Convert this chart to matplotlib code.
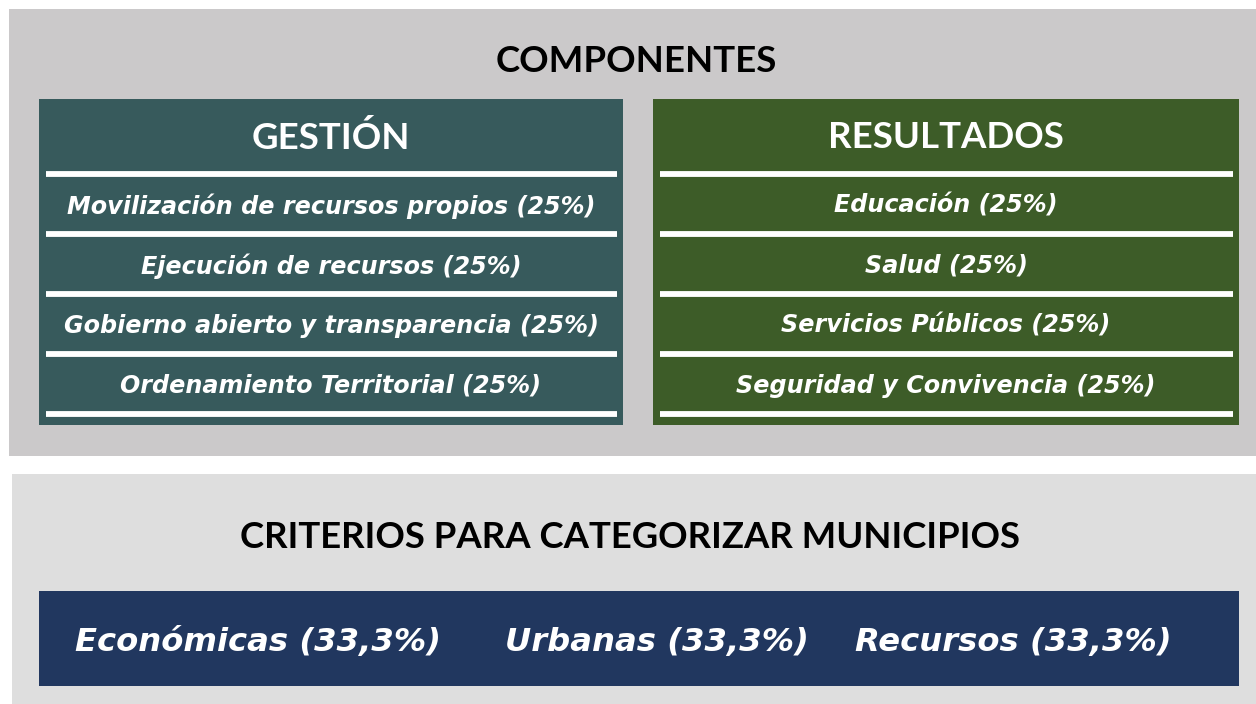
import matplotlib
matplotlib.use("Agg")
import matplotlib.pyplot as plt
from matplotlib.patches import Rectangle

# data
componentes = ["GESTIÓN", "RESULTADOS"]
gestion_items = ["Movilización de recursos propios", "Ejecución de recursos",
                 "Gobierno abierto y transparencia", "Ordenamiento Territorial"]
gestion_pesos = [25, 25, 25, 25]
resultados_items = ["Educación", "Salud", "Servicios Públicos", "Seguridad y Convivencia"]
resultados_pesos = [25, 25, 25, 25]
criterios = ["Económicas", "Urbanas", "Recursos"]
criterios_pesos = ["33,3", "33,3", "33,3"]

W, H = 1256, 704
fig = plt.figure(figsize=(W / 100, H / 100), dpi=100)
ax = fig.add_axes([0, 0, 1, 1])
ax.set_xlim(0, W)
ax.set_ylim(H, 0)
ax.axis("off")

head_font = "Lato"
item_font = "DejaVu Sans"

# top panel
ax.add_patch(Rectangle((9, 9), W - 9, 447, color="#cbc9ca", lw=0))
ax.text(636, 61, "COMPONENTES", ha="center", va="center", fontsize=26.4,
        fontweight="bold", family=head_font, color="black")

boxes = [(39, 623, "#375a5c", gestion_items, gestion_pesos),
         (653, 1239, "#3d5c28", resultados_items, resultados_pesos)]
for (x0, x1, col, items, pesos), name in zip(boxes, componentes):
    ax.add_patch(Rectangle((x0, 99), x1 - x0, 326, color=col, lw=0))
    cx = (x0 + x1) / 2
    ax.text(cx, 138, name, ha="center", va="center", fontsize=26.4,
            fontweight="bold", family=head_font, color="white")
    for k in range(5):
        y = 174 + 60 * k
        ax.plot([x0 + 7, x1 - 6], [y, y], color="white", lw=4.2,
                solid_capstyle="butt")
    for k, (it, p) in enumerate(zip(items, pesos)):
        ax.text(cx, 206 + 60 * k, f"{it} ({p}%)", ha="center", va="center",
                fontsize=17.2, fontweight="bold", style="italic",
                family=item_font, color="white")

# bottom panel
ax.add_patch(Rectangle((12, 474), W - 12, H - 474, color="#dedede", lw=0))
ax.text(630, 538, "CRITERIOS PARA CATEGORIZAR MUNICIPIOS", ha="center",
        va="center", fontsize=26.3, fontweight="bold", family=head_font,
        color="black")

blue = "#21375f"
cells = [(39, 480, 258), (480, 790, 657), (790, 1239, 1013)]
for (x0, x1, tx), c, p in zip(cells, criterios, criterios_pesos):
    ax.add_patch(Rectangle((x0, 591), x1 - x0, 95, color=blue, lw=0))
    ax.text(tx, 642, f"{c} ({p}%)", ha="center", va="center", fontsize=23.2,
            fontweight="bold", style="italic", family=item_font, color="white")

fig.savefig("out.png", dpi=100)
